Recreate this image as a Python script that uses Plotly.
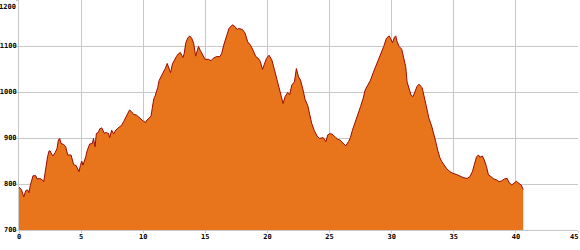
import plotly.graph_objects as go

distance_km = [0.0, 0.2, 0.38, 0.55, 0.7, 0.8, 0.92, 1.02, 1.13, 1.35, 1.45, 1.67, 1.88, 1.99,
               2.1, 2.2, 2.3, 2.42, 2.5, 2.63, 2.74, 2.9, 3.06, 3.17, 3.28, 3.38, 3.6, 3.76, 3.92,
               4.19, 4.3, 4.4, 4.6, 4.73, 4.83, 4.94, 5.05, 5.15, 5.26, 5.37, 5.48, 5.59, 5.69,
               5.9, 6.0, 6.12, 6.23, 6.39, 6.5, 6.66, 6.77, 6.88, 6.98, 7.2, 7.3, 7.46, 7.62,
               7.79, 7.95, 8.1, 8.27, 8.43, 8.6, 8.75, 8.9, 9.07, 9.24, 9.45, 9.67, 9.88, 10.04,
               10.2, 10.3, 10.47, 10.63, 10.74, 10.85, 10.95, 11.06, 11.17, 11.28, 11.44, 11.6,
               11.77, 11.93, 12.1, 12.2, 12.35, 12.5, 12.67, 12.83, 12.99, 13.1, 13.2, 13.3,
               13.42, 13.58, 13.74, 13.9, 14.06, 14.22, 14.35, 14.45, 14.6, 14.8, 14.98, 15.25,
               15.46, 15.62, 15.9, 16.17, 16.32, 16.48, 16.7, 16.9, 17.18, 17.4, 17.55, 17.7,
               17.98, 18.2, 18.41, 18.63, 18.84, 19.06, 19.27, 19.43, 19.6, 19.76, 19.92, 20.13,
               20.35, 20.56, 20.77, 20.93, 21.1, 21.26, 21.42, 21.63, 21.79, 21.96, 22.17, 22.33,
               22.5, 22.66, 22.87, 23.03, 23.25, 23.4, 23.56, 23.78, 24.0, 24.2, 24.48, 24.7,
               24.86, 25.07, 25.28, 25.5, 25.66, 25.82, 26.04, 26.3, 26.52, 26.68, 26.84, 27.05,
               27.27, 27.49, 27.7, 27.86, 28.08, 28.3, 28.5, 28.72, 28.94, 29.15, 29.36, 29.58,
               29.8, 29.9, 30.07, 30.22, 30.33, 30.43, 30.6, 30.81, 30.97, 31.13, 31.24, 31.4,
               31.56, 31.72, 31.9, 32.04, 32.2, 32.43, 32.5, 32.69, 32.85, 33.0, 33.23, 33.39,
               33.55, 33.7, 33.87, 34.03, 34.25, 34.41, 34.68, 34.94, 35.2, 35.48, 35.75, 36.07,
               36.29, 36.5, 36.67, 36.83, 36.99, 37.1, 37.3, 37.46, 37.63, 37.79, 38.0, 38.22,
               38.44, 38.65, 38.86, 39.08, 39.3, 39.45, 39.67, 39.88, 40.04, 40.26, 40.43, 40.59]

elevation_m = [793, 788, 772, 786, 787, 781, 798, 809, 818, 818, 811, 812, 809, 805,
               825, 849, 859, 872, 872, 865, 861, 868, 877, 896, 899, 888, 886, 881, 863,
               863, 849, 842, 840, 834, 827, 840, 850, 841, 848, 859, 872, 881, 887,
               888, 899, 881, 910, 912, 920, 922, 914, 910, 912, 910, 901, 917, 909,
               917, 921, 925, 928, 936, 946, 954, 961, 957, 951, 950, 945, 939, 936,
               934, 939, 943, 948, 967, 985, 991, 999, 1010, 1025, 1033, 1044,
               1051, 1062, 1051, 1042, 1061, 1070, 1077, 1083, 1086, 1080, 1075, 1084,
               1106, 1117, 1122, 1117, 1106, 1078, 1088, 1099, 1090, 1080, 1071, 1071,
               1068, 1073, 1077, 1077, 1084, 1102, 1120, 1138, 1146, 1142, 1136, 1138,
               1136, 1128, 1109, 1102, 1091, 1077, 1073, 1066, 1049, 1062, 1073, 1080,
               1070, 1049, 1026, 1008, 994, 975, 990, 999, 994, 1015, 1022, 1051,
               1033, 1026, 1004, 984, 970, 950, 932, 916, 904, 899, 901, 892,
               907, 910, 907, 901, 897, 896, 890, 883, 892, 901, 917, 932,
               950, 968, 986, 1004, 1015, 1026, 1041, 1055, 1070, 1085, 1099, 1117,
               1122, 1117, 1107, 1119, 1122, 1110, 1099, 1093, 1070, 1055, 1022, 1008,
               993, 990, 1001, 1012, 1017, 1010, 1004, 983, 961, 943, 925, 910,
               892, 874, 858, 849, 841, 834, 827, 823, 821, 817, 814, 812,
               816, 827, 841, 859, 863, 858, 861, 852, 838, 820, 816, 811,
               809, 805, 807, 811, 812, 803, 798, 803, 806, 801, 798, 788]

x_ticks = [0, 5, 10, 15, 20, 25, 30, 35, 40, 45]
y_ticks = [700, 800, 900, 1000, 1100, 1200]

FONT = dict(family="DejaVu Sans Mono", size=7, color="#000000", weight="bold")
GRID = "#c8c8c8"

fig = go.Figure()
fig.add_trace(go.Scatter(
    x=distance_km, y=elevation_m, mode="lines", fill="tozeroy",
    fillcolor="#E8741B", line=dict(color="#9a0a00", width=1),
    hoverinfo="skip", showlegend=False,
))

fig.update_xaxes(
    range=[x_ticks[0], x_ticks[-1]], tickmode="array", tickvals=x_ticks,
    ticktext=[str(v) for v in x_ticks[:-1]] + [""],
    showgrid=True, gridcolor=GRID, gridwidth=1,
    showline=True, linecolor=GRID, linewidth=1,
    ticks="outside", ticklen=2, tickcolor=GRID, tickfont=FONT, zeroline=False,
    ticklabelstandoff=-2, automargin=False,
)
fig.update_yaxes(
    range=[y_ticks[0], y_ticks[-1]], tickmode="array", tickvals=y_ticks,
    ticktext=[str(v) for v in y_ticks[:-1]] + [""],
    showgrid=True, gridcolor=GRID, gridwidth=1,
    showline=True, linecolor=GRID, linewidth=1,
    ticks="outside", ticklen=2, tickcolor=GRID, tickfont=FONT, zeroline=False,
    ticklabelstandoff=-2, automargin=False,
)

fig.add_annotation(text=str(y_ticks[-1]), xref="paper", yref="paper", x=0, y=1,
                   xanchor="right", yanchor="top", xshift=-1, yshift=-1,
                   showarrow=False, font=FONT)
fig.add_annotation(text=str(x_ticks[-1]), xref="paper", yref="paper", x=1, y=0,
                   xanchor="right", yanchor="top", xshift=2, yshift=-1,
                   showarrow=False, font=FONT)

fig.update_layout(
    width=580, height=250,
    margin=dict(l=19, r=2, t=0, b=20),
    paper_bgcolor="white", plot_bgcolor="white",
)

fig.write_html("out.html")
